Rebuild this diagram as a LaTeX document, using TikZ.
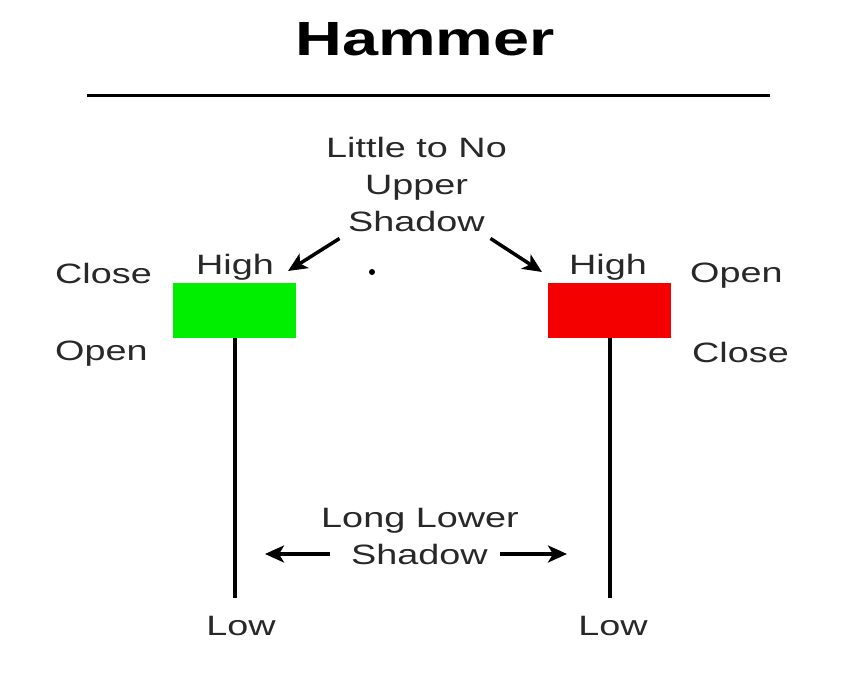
\documentclass[tikz,border=0pt]{standalone}
\usepackage{fontspec}
\setmainfont[FakeStretch=1.35]{Liberation Sans}
\usetikzlibrary{arrows.meta}
\definecolor{bullgreen}{RGB}{0,238,0}
\definecolor{bearred}{RGB}{245,0,0}
\definecolor{labelgray}{RGB}{40,40,40}

\begin{document}
\begin{tikzpicture}[x=1pt,y=-1pt,
  lbl/.style={inner sep=0pt,text=labelgray,font=\fontsize{28}{37}\selectfont},
  body/.style={minimum width=123pt,minimum height=55pt,inner sep=0pt},
  wick/.style={line width=4pt},
  pointer/.style={line width=3.5pt,-{Stealth[length=19pt,width=17pt,inset=5pt]}}]
\useasboundingbox (0,0) rectangle (868,675);

% title and rule
\node[inner sep=0pt,anchor=base,font=\fontsize{48}{48}\bfseries\selectfont] (title) at (425,55) {Hammer};
\draw[line width=3pt] (87,95) -- (770,95);

% upper shadow label
\node[lbl,align=center] (upper) at (416.5,184) {Little to No\\Upper\\Shadow};
\coordinate (lhigh) at (288,271);
\coordinate (rhigh) at (542,272);
\draw[pointer] ([xshift=-77pt,yshift=-7pt]upper.south) -- (lhigh);
\draw[pointer] ([xshift=74pt,yshift=-7pt]upper.south) -- (rhigh);
\fill (372,272) circle (3pt);

% bullish candle
\node[body,fill=bullgreen] (gbody) at (234.5,310.5) {};
\node[lbl,anchor=base] (ghigh) at (235,274) {High};
\node[lbl,anchor=base west] (gclose) at (55,283) {Close};
\node[lbl,anchor=base west] (gopen) at (55,360) {Open};
\node[lbl,anchor=base] (glow) at (241,635) {Low};
\draw[wick,shorten >=18pt] (gbody.south) -- (glow.north -| gbody.south);

% bearish candle
\node[body,fill=bearred] (rbody) at (609.5,310.5) {};
\node[lbl,anchor=base] (rhighlbl) at (608,274) {High};
\node[lbl,anchor=base west] (ropen) at (690,282) {Open};
\node[lbl,anchor=base west] (rclose) at (692,362) {Close};
\node[lbl,anchor=base] (rlow) at (613,635) {Low};
\draw[wick,shorten >=18pt] (rbody.south) -- (rlow.north -| rbody.south);

% lower shadow label
\node[lbl,anchor=base] (long) at (420,527) {Long Lower};
\node[lbl,anchor=base] (shadow) at (419.5,564) {Shadow};
\coordinate (lltip) at ([xshift=-86pt]shadow.west);
\coordinate (rltip) at ([xshift=79pt]shadow.east);
\draw[pointer] ([xshift=-21pt]shadow.west) -- (lltip);
\draw[pointer] ([xshift=12pt]shadow.east) -- (rltip);
\end{tikzpicture}
\end{document}
